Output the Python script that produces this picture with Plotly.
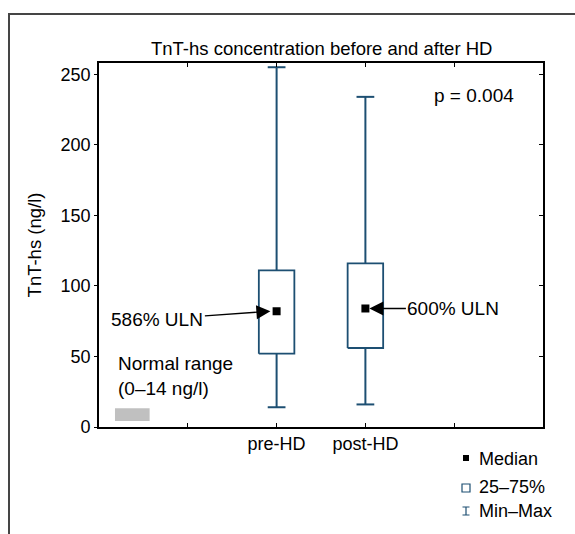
import plotly.graph_objects as go

# Summary statistics of TnT-hs (ng/l) before and after haemodialysis
groups = ["pre-HD", "post-HD"]
group_pos = [2, 3]
mins = [14, 16]
q1s = [52, 56]
q3s = [111, 116]
maxs = [255, 234]
uln_pct = [586, 600]          # median expressed as % of upper limit of normal
uln = 14                       # upper limit of normal range (ng/l)
normal_range = [0, 14]
medians = [p * uln / 100 for p in uln_pct]
p_value = "0.004"

y_ticks = [0, 50, 100, 150, 200, 250]
x_ticks = [1, 2, 3, 4]
x_ticktext = ["", groups[0], groups[1], ""]

FONT = "Liberation Sans, Arial, sans-serif"
BLUE = "#1d4f72"
W, H = 575, 534
L, R, T, B = 99, 32, 63, 107
PW, PH = W - L - R, H - T - B


def px_x(px):
    return (px - L) / PW


def px_y(py):
    return (H - B - py) / PH


fig = go.Figure()

half_box, half_cap = 0.2, 0.1
for pos, lo, a, b, hi, med in zip(group_pos, mins, q1s, q3s, maxs, medians):
    # whiskers with caps
    fig.add_trace(go.Scatter(
        x=[pos, pos, None, pos - half_cap, pos + half_cap, None,
           pos, pos, None, pos - half_cap, pos + half_cap],
        y=[b, hi, None, hi, hi, None, a, lo, None, lo, lo],
        mode="lines", line=dict(color=BLUE, width=2),
        showlegend=False, hoverinfo="skip", cliponaxis=False))
    # interquartile box
    fig.add_trace(go.Scatter(
        x=[pos - half_box, pos + half_box, pos + half_box, pos - half_box, pos - half_box],
        y=[a, a, b, b, a],
        mode="lines", line=dict(color=BLUE, width=1.8),
        showlegend=False, hoverinfo="skip"))
    # median
    fig.add_trace(go.Scatter(
        x=[pos], y=[med], mode="markers",
        marker=dict(symbol="square", size=8, color="black"),
        showlegend=False, hoverinfo="skip"))

# normal range bar
fig.add_shape(type="rect", xref="x", yref="y", x0=0.18, x1=0.57,
              y0=normal_range[0] + 4.3, y1=normal_range[1] - 0.7,
              fillcolor="#c0c0c0", line=dict(width=0))


def note(x, y, text, size=19, xanchor="center", **kw):
    return dict(x=x, y=y, xref="paper", yref="paper", text=text, showarrow=False,
                xanchor=xanchor, yanchor="middle", font=dict(size=size), **kw)


ann = []
ann.append(dict(x=group_pos[0] - 0.07, y=medians[0], xref="x", yref="y",
                text=f"{uln_pct[0]}% ULN", showarrow=True, ax=-113, ay=8,
                arrowhead=2, arrowsize=2.0, arrowwidth=1.4, arrowcolor="black",
                font=dict(size=19)))
ann.append(dict(x=group_pos[1] + 0.045, y=medians[1], xref="x", yref="y",
                text=f"{uln_pct[1]}% ULN", showarrow=True, ax=84, ay=0,
                arrowhead=2, arrowsize=2.0, arrowwidth=1.4, arrowcolor="black",
                font=dict(size=19)))
ann.append(note(px_x(473.5), px_y(95), f"p = {p_value}", size=19))
ann.append(note(px_x(116), px_y(363), "Normal range", xanchor="left"))
ann.append(note(px_x(116), px_y(388), f"({normal_range[0]}\u2013{normal_range[1]} ng/l)",
                xanchor="left"))
ann.append(note(0.5, px_y(49), "TnT-hs concentration before and after HD", size=18.5))

# key
key_items = ["Median", "25\u201375%", "Min\u2013Max"]
key_y = [459, 487, 511]
for label, ky in zip(key_items, key_y):
    ann.append(note(px_x(477), px_y(ky), label, size=18, xanchor="left"))

shapes = []
shapes.append(dict(type="rect", xref="paper", yref="paper",
                   x0=px_x(463), x1=px_x(469), y0=px_y(461), y1=px_y(455),
                   fillcolor="black", line=dict(width=0)))
shapes.append(dict(type="rect", xref="paper", yref="paper",
                   x0=px_x(462), x1=px_x(470), y0=px_y(492), y1=px_y(484),
                   fillcolor="white", line=dict(color=BLUE, width=1.2)))
shapes.append(dict(type="path", xref="paper", yref="paper",
                   path=(f"M{px_x(466)},{px_y(507)} L{px_x(466)},{px_y(515)} "
                         f"M{px_x(462.5)},{px_y(507)} L{px_x(469.5)},{px_y(507)} "
                         f"M{px_x(462.5)},{px_y(515)} L{px_x(469.5)},{px_y(515)}"),
                   line=dict(color=BLUE, width=1.2)))
# outer frame
shapes.append(dict(type="path", xref="paper", yref="paper",
                   path=f"M{px_x(9)},{px_y(545)} L{px_x(9)},{px_y(14)} L{px_x(585)},{px_y(14)}",
                   line=dict(color="#454545", width=2)))

for s in shapes:
    fig.add_shape(**s)

fig.update_layout(
    width=W, height=H,
    margin=dict(l=L, r=R, t=T, b=B, pad=0),
    paper_bgcolor="white", plot_bgcolor="white",
    font=dict(family=FONT, color="black", size=18),
    annotations=ann,
    showlegend=False,
    xaxis=dict(range=[0, 5], tickvals=x_ticks, ticktext=x_ticktext,
               ticks="inside", ticklen=4, tickwidth=1.2, tickcolor="black",
               showline=True, linecolor="black", linewidth=1.6, mirror="ticks",
               showgrid=False, zeroline=False, fixedrange=True,
               tickfont=dict(size=18)),
    yaxis=dict(range=[0, 258], tickvals=y_ticks,
               ticks="outside", ticklen=3, tickwidth=1.2, tickcolor="black",
               showline=True, linecolor="black", linewidth=1.6, mirror=True,
               showgrid=False, zeroline=False,
               title=dict(text="TnT-hs (ng/l)", font=dict(size=18.5), standoff=14),
               tickfont=dict(size=18)),
    yaxis2=dict(range=[0, 258], tickvals=y_ticks, overlaying="y", side="right",
                ticks="inside", ticklen=4, tickwidth=1.2, tickcolor="black",
                showticklabels=False, showline=False, showgrid=False, zeroline=False),
)
# invisible trace to bring the right-hand tick axis into view
fig.add_trace(go.Scatter(x=[None], y=[None], yaxis="y2", showlegend=False, hoverinfo="skip"))

fig.write_html("out.html")
